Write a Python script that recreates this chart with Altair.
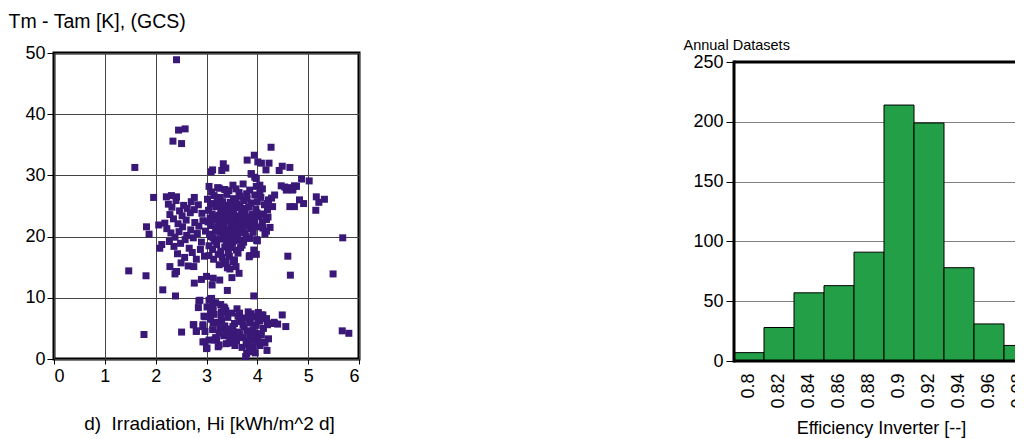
import altair as alt
import pandas as pd

FONT = "Liberation Sans"
PURPLE = "#3a1878"
GREEN = "#23a047"

# ---------------- scatter data: (irradiation Hi, Tm - Tam) ----------------
outliers = [
    (2.41, 48.9), (2.45, 37.4), (2.58, 37.6), (2.34, 35.6), (2.51, 35.2),
    (1.59, 31.3), (4.27, 34.6), (5.68, 19.8), (4.60, 16.8), (4.65, 13.7),
    (5.49, 13.9), (1.47, 14.4), (1.81, 13.6), (2.14, 11.3), (2.39, 10.3),
    (3.93, 10.3), (1.77, 4.0), (2.51, 4.4), (5.67, 4.6), (5.80, 4.2),
    (4.49, 7.2), (4.56, 5.3), (4.19, 1.4), (3.77, 0.4), (3.41, 11.2),
]

upper_top = [
    (3.94, 33.3), (3.80, 32.5), (4.01, 32.2), (4.08, 32.0), (3.33, 31.9),
    (3.38, 31.2), (3.30, 30.8), (3.12, 30.9), (3.09, 30.6), (4.23, 32.0),
    (4.17, 30.9), (4.49, 31.5), (4.64, 31.3), (4.43, 30.8), (3.88, 30.2),
    (3.98, 29.5), (4.87, 29.4), (5.02, 29.1), (4.05, 28.4), (4.47, 28.3),
    (4.60, 28.0), (4.73, 28.3), (4.69, 27.6), (4.57, 27.6), (3.05, 28.2),
    (3.25, 27.9), (3.44, 27.5), (3.58, 27.8), (3.79, 27.0), (5.16, 26.5),
    (5.32, 26.1), (1.96, 26.4), (2.21, 26.5), (2.31, 26.7), (2.41, 26.5),
    (2.76, 26.4), (4.70, 27.7), (4.64, 24.9), (4.73, 24.9), (4.83, 26.0),
    (4.91, 25.4), (5.15, 24.3), (5.21, 25.6), (4.54, 28.1), (4.77, 28.2),
    (3.95, 29.7), (3.88, 30.3),
]

upper_left = [
    (1.82, 21.6), (1.87, 20.4), (2.08, 18.1), (2.12, 18.7), (2.06, 21.9),
    (2.18, 22.2), (2.28, 15.1), (2.41, 14.3), (2.38, 13.9), (2.75, 15.1),
    (2.76, 12.4), (2.90, 13.0), (3.00, 13.5), (3.13, 13.2), (3.26, 12.9),
    (3.11, 12.1), (3.50, 13.3), (3.64, 14.0), (3.46, 14.7), (3.34, 15.6),
    (3.52, 15.9),
    (2.25, 25.3), (2.32, 24.8), (2.28, 23.6), (2.40, 25.9), (2.47, 24.2),
    (2.55, 25.1), (2.62, 24.6), (2.70, 25.7), (2.35, 22.9), (2.44, 22.1),
    (2.52, 23.4), (2.60, 22.7), (2.68, 23.9), (2.76, 24.4), (2.84, 25.2),
    (2.91, 23.8), (2.22, 21.3), (2.30, 20.6), (2.38, 19.9), (2.46, 20.8),
    (2.53, 21.6), (2.61, 20.2), (2.69, 21.1), (2.77, 22.3), (2.85, 21.7),
    (2.93, 22.6), (2.27, 19.2), (2.36, 18.4), (2.49, 18.9), (2.58, 19.5),
    (2.66, 18.1), (2.74, 19.8), (2.82, 20.5), (2.90, 19.1), (2.98, 20.9),
    (2.43, 17.2), (2.57, 16.6), (2.72, 17.4), (2.80, 16.3), (2.88, 17.9),
    (2.96, 16.8), (2.50, 15.7), (2.64, 15.2),
]

upper_core = [
    (3.02, 26.1), (3.08, 25.4), (3.15, 26.7), (3.21, 25.8), (3.27, 26.4),
    (3.34, 25.1), (3.40, 26.9), (3.47, 25.6), (3.53, 26.2), (3.60, 25.3),
    (3.66, 26.6), (3.73, 25.9), (3.80, 26.3), (3.87, 25.5),
    (3.04, 24.3), (3.11, 23.7), (3.18, 24.9), (3.24, 23.5), (3.31, 24.6),
    (3.37, 23.2), (3.44, 24.1), (3.50, 23.8), (3.56, 24.7), (3.63, 23.4),
    (3.69, 24.4), (3.76, 23.9), (3.83, 24.8), (3.90, 23.6), (3.97, 24.5),
    (4.04, 23.3),
    (3.03, 22.4), (3.09, 21.8), (3.16, 22.7), (3.22, 21.5), (3.29, 22.2),
    (3.35, 21.2), (3.42, 22.9), (3.48, 21.7), (3.55, 22.5), (3.61, 21.4),
    (3.68, 22.1), (3.74, 21.9), (3.81, 22.6), (3.88, 21.3), (3.95, 22.8),
    (4.02, 21.6), (4.10, 22.3),
    (3.06, 20.4), (3.13, 19.8), (3.19, 20.9), (3.26, 19.6), (3.33, 20.3),
    (3.39, 19.2), (3.46, 20.6), (3.52, 19.9), (3.58, 20.5), (3.65, 19.4),
    (3.71, 20.8), (3.78, 20.1), (3.85, 19.7), (3.92, 20.7), (3.99, 19.5),
    (3.05, 18.5), (3.12, 17.9), (3.20, 18.7), (3.28, 17.6), (3.36, 18.3),
    (3.43, 17.4), (3.51, 18.9), (3.59, 17.8), (3.67, 18.2), (3.05, 16.9),
    (3.14, 16.3), (3.23, 17.1), (3.31, 16.6), (3.38, 15.9), (3.45, 16.8),
    (3.55, 16.2), (3.62, 17.3), (3.25, 15.4), (3.41, 14.9), (3.58, 15.1),
    (3.10, 27.3), (3.22, 28.0), (3.36, 27.7), (3.52, 28.4), (3.64, 27.2),
    (3.72, 28.6), (3.85, 27.6), (3.95, 26.8),
    (3.30, 23.0), (3.38, 22.6), (3.45, 23.5), (3.52, 22.0), (3.58, 23.1),
    (3.62, 22.8), (3.40, 24.5), (3.48, 22.4), (3.34, 21.9), (3.56, 21.1),
    (3.44, 21.0), (3.70, 23.0), (3.66, 24.9), (3.28, 24.0), (3.20, 23.1),
    (3.32, 25.7), (3.46, 25.0), (3.58, 25.9), (3.71, 24.6), (3.78, 22.9),
    (3.85, 23.2), (3.93, 21.9), (3.24, 22.6), (3.13, 23.2), (3.07, 23.0),
    (3.18, 21.2), (3.27, 20.7), (3.41, 20.1), (3.49, 20.9), (3.61, 20.0),
    (3.68, 21.3), (3.75, 20.6), (3.82, 21.7), (3.36, 19.7), (3.54, 19.3),
    (3.16, 19.3), (3.09, 20.0), (3.46, 18.2), (3.73, 19.1), (3.88, 22.2),
    (3.99, 23.9), (3.53, 24.3), (3.39, 24.0), (3.26, 25.2), (3.63, 22.2),
]

upper_right = [
    (4.00, 25.7), (4.07, 26.4), (4.14, 25.2), (4.20, 24.4), (4.12, 23.7),
    (4.18, 22.8), (4.05, 27.1), (4.22, 26.0), (3.98, 28.2), (4.10, 27.8),
    (4.25, 21.5), (4.30, 24.9), (4.15, 20.5), (4.21, 23.2), (4.20, 25.4),
    (4.28, 26.3), (4.34, 26.8), (4.18, 20.9), (4.11, 21.4), (3.70, 18.6),
    (3.84, 16.7), (3.98, 17.1), (3.93, 17.8), (4.00, 19.3), (3.85, 16.9),
    (3.99, 19.4),
]

lower_cluster = [
    (2.87, 9.6), (2.84, 8.4), (3.05, 9.6), (3.13, 8.7), (3.01, 8.5),
    (3.34, 8.5), (3.29, 7.7), (2.95, 7.0), (3.08, 7.5), (2.75, 5.6),
    (2.93, 5.6), (2.80, 4.6), (2.97, 4.5), (2.93, 2.8), (3.00, 1.7),
    (3.05, 3.1), (3.20, 3.1), (3.23, 2.0), (3.13, 5.9), (3.65, 6.9),
    (3.82, 7.7), (4.11, 7.2), (4.01, 6.4), (4.31, 5.8), (4.20, 5.6),
    (3.98, 4.2), (4.11, 2.8), (3.92, 2.0), (3.79, 2.4), (3.88, 1.2),
    (3.52, 2.8), (3.39, 2.5), (3.65, 3.6), (3.52, 5.3), (3.39, 4.7),
    (3.26, 5.0), (3.72, 5.6), (3.85, 6.4),
    (3.30, 6.2), (3.36, 5.4), (3.42, 6.8), (3.48, 4.9), (3.55, 5.8),
    (3.61, 4.4), (3.68, 6.1), (3.74, 5.2), (3.80, 4.6), (3.86, 5.9),
    (3.92, 4.8), (3.98, 5.5), (4.05, 6.2), (4.12, 5.0), (4.18, 6.6),
    (4.25, 5.8), (4.33, 6.0), (4.40, 5.7), (3.34, 3.8), (3.40, 4.3),
    (3.46, 3.2), (3.53, 3.9), (3.59, 3.0), (3.66, 4.1), (3.72, 3.5),
    (3.78, 2.9), (3.85, 3.7), (3.90, 3.1), (4.00, 3.6), (4.08, 4.0),
    (4.15, 2.6), (4.22, 3.3), (3.25, 4.2), (3.18, 3.5), (3.12, 4.8),
    (3.08, 6.5), (3.15, 7.3), (3.22, 6.0), (3.50, 7.5), (3.62, 7.0),
    (3.75, 6.7), (3.88, 7.4), (3.95, 6.9), (4.02, 7.6), (3.44, 2.6),
    (3.56, 2.2), (3.70, 1.9), (3.84, 1.5), (3.96, 1.0), (4.05, 2.2),
    (3.60, 8.2), (3.38, 7.9), (3.28, 8.9), (3.18, 9.2), (3.10, 9.9),
    (2.85, 9.5), (3.08, 9.8), (3.13, 7.8), (2.97, 6.9), (3.36, 8.3),
    (3.29, 6.9), (2.74, 5.6), (2.93, 5.3), (2.80, 4.5), (2.97, 2.8),
    (3.01, 1.8), (3.16, 3.1), (3.25, 2.3), (3.65, 7.5), (4.08, 7.2),
    (4.34, 5.8), (4.01, 2.8), (3.79, 0.9), (3.88, 2.0),
]

# ---------------- histogram data ----------------
eff_bins = ["0.8", "0.82", "0.84", "0.86", "0.88", "0.9", "0.92", "0.94", "0.96", "0.98"]
eff_counts = [7, 28, 57, 63, 91, 214, 199, 78, 31, 13]

pts = outliers + upper_top + upper_left + upper_core + upper_right + lower_cluster
scatter_df = pd.DataFrame({"hi": [p[0] for p in pts], "dt": [p[1] for p in pts]})
hist_df = pd.DataFrame({"bin": eff_bins, "count": eff_counts})
dummy = pd.DataFrame({"a": [0]})

# ---------------- left: scatter ----------------
scatter = alt.Chart(scatter_df).mark_square(size=49, color=PURPLE, opacity=1).encode(
    x=alt.X("hi:Q", scale=alt.Scale(domain=[0, 6], nice=False),
            axis=alt.Axis(values=[0, 1, 2, 3, 4, 5, 6], grid=True, gridColor="#444444",
                          gridWidth=1, domain=False, tickColor="black", tickSize=5,
                          labelFont=FONT, labelFontSize=18, labelColor="black", labelPadding=3,
                          title="d)\u00a0 Irradiation, Hi [kWh/m^2 d]", titleFont=FONT,
                          titleFontSize=19, titleFontWeight="normal", titleColor="black",
                          titleX=155, titleY=70, titleBaseline="alphabetic", titleAlign="center")),
    y=alt.Y("dt:Q", scale=alt.Scale(domain=[0, 50], nice=False),
            axis=alt.Axis(values=[0, 10, 20, 30, 40, 50], grid=True, gridColor="#444444",
                          gridWidth=1, domain=False, tickColor="black", tickSize=7,
                          labelFont=FONT, labelFontSize=18, labelColor="black", labelPadding=2,
                          title="Tm - Tam [K], (GCS)", titleFont=FONT, titleFontSize=19.5,
                          titleFontWeight="normal", titleColor="black", titleAngle=0,
                          titleX=-46, titleY=-26, titleAlign="left", titleBaseline="alphabetic")),
)
left_pad = alt.Chart(dummy).mark_rule(opacity=0).encode(
    x=alt.value(-52), x2=alt.value(330), y=alt.value(-51), y2=alt.value(0))
left = alt.layer(scatter, left_pad).properties(width=305, height=306)

# ---------------- right: histogram (cut off by the picture's right edge) ----------------
H_R = 308   # plot group height (aligned with the scatter top)
TOP_R = 9   # where the 250 line / frame top sits inside the group
W_R = 300
bars = alt.Chart(hist_df).mark_bar(color=GREEN, stroke="black", strokeWidth=1).encode(
    x=alt.X("bin:N", sort=eff_bins, scale=alt.Scale(paddingInner=0, paddingOuter=0),
            axis=alt.Axis(labelAngle=270, ticks=False, tickSize=0, domain=False, grid=False,
                          labelFont=FONT, labelFontSize=18, labelColor="black", labelPadding=12,
                          title="Efficiency Inverter [--]", titleFont=FONT, titleFontSize=18,
                          titleFontWeight="normal", titleColor="black", titleX=147, titleY=72,
                          titleBaseline="alphabetic", titleAlign="center")),
    y=alt.Y("count:Q", scale=alt.Scale(domain=[0, 250], nice=False, range=[H_R, TOP_R]),
            axis=alt.Axis(values=[0, 50, 100, 150, 200, 250], grid=True, gridColor="#808080",
                          gridWidth=1, domain=False, tickColor="black", tickSize=8,
                          labelFont=FONT, labelFontSize=18, labelColor="black", labelPadding=3,
                          title="Annual Datasets", titleFont=FONT, titleFontSize=14.5,
                          titleFontWeight="normal", titleColor="black", titleAngle=0,
                          titleX=-51, titleY=-4, titleAlign="left", titleBaseline="alphabetic")),
)
frame_left = alt.Chart(dummy).mark_rule(color="black", strokeWidth=3).encode(
    x=alt.value(0), y=alt.value(TOP_R - 1.5), y2=alt.value(H_R + 1.5))
frame_top = alt.Chart(dummy).mark_rule(color="black", strokeWidth=3).encode(
    x=alt.value(0), x2=alt.value(W_R), y=alt.value(TOP_R))
frame_bottom = alt.Chart(dummy).mark_rule(color="black", strokeWidth=3).encode(
    x=alt.value(0), x2=alt.value(W_R), y=alt.value(H_R))
right_pad = alt.Chart(dummy).mark_rule(opacity=0).encode(
    x=alt.value(-110), x2=alt.value(0), y=alt.value(-51), y2=alt.value(0))
right = alt.layer(bars, frame_left, frame_top, frame_bottom, right_pad).properties(
    width=W_R, height=H_R, view=alt.ViewBackground(stroke="transparent"))

# the picture cuts the histogram at its right edge: a negative right padding crops it
PAD = {"left": 0, "top": 0, "right": -22, "bottom": 0}
chart = alt.hconcat(left, right, spacing=236).properties(
    padding=PAD, background="white"
).configure(padding=PAD).configure_view(stroke="black", strokeWidth=3)

chart.save("out.html", embed_options={"renderer": "svg", "actions": False})
